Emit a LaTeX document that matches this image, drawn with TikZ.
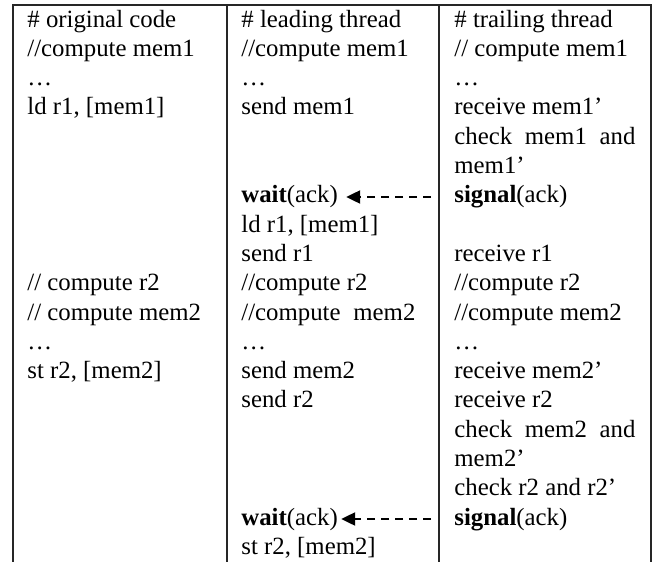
\documentclass[tikz,border=0pt]{standalone}
\usepackage{fontspec}
\setmainfont{Liberation Serif}
\usetikzlibrary{arrows.meta}
\tikzset{
    codeline/.style={anchor=base west, inner sep=0pt, font=\fontsize{12.4}{14}\selectfont},
    gridline/.style={line width=0.9pt, draw=black!85},
    ackarrow/.style={-{Triangle[length=7pt,width=6.5pt]}, line width=1.1pt, dash pattern=on 4pt off 3pt}
}
\newcommand{\spreadline}[2]{\makebox[#1][s]{#2}}

\begin{document}
\begin{tikzpicture}[x=0.5pt, y=-0.5pt]
    \useasboundingbox (0,0) rectangle (659,562);
    % table frame
    \draw[gridline] (13,562) -- (13,5) -- (651,5) -- (651,562);
    \draw[gridline] (227,5) -- (227,562);
    \draw[gridline] (439,5) -- (439,562);
    % original code
    \foreach \n/\t in {0/{\# original code}, 1/{//compute mem1}, 2/{…}, 3/{ld r1, [mem1]},
        9/{// compute r2}, 10/{// compute mem2}, 11/{…}, 12/{st r2, [mem2]}}
        \node[codeline] (orig\n) at (27, {27+29.3*\n}) {\t};
    % leading thread
    \foreach \n/\t in {0/{\# leading thread}, 1/{//compute mem1}, 2/{…}, 3/{send mem1},
        6/{\textbf{wait}(ack)}, 7/{ld r1, [mem1]}, 8/{send r1}, 9/{//compute r2},
        10/{\spreadline{87pt}{//compute mem2}}, 11/{…}, 12/{send mem2}, 13/{send r2},
        17/{\textbf{wait}(ack)}, 18/{st r2, [mem2]}}
        \node[codeline] (lead\n) at (241, {27+29.3*\n}) {\t};
    % trailing thread
    \foreach \n/\t in {0/{\# trailing thread}, 1/{// compute mem1}, 2/{…}, 3/{receive mem1’},
        4/{\spreadline{90.5pt}{check mem1 and}}, 5/{mem1’}, 6/{\textbf{signal}(ack)},
        8/{receive r1}, 9/{//compute r2}, 10/{//compute mem2}, 11/{…}, 12/{receive mem2’},
        13/{receive r2}, 14/{\spreadline{90.5pt}{check mem2 and}}, 15/{mem2’},
        16/{check r2 and r2’}, 17/{\textbf{signal}(ack)}}
        \node[codeline] (trail\n) at (454, {27+29.3*\n}) {\t};
    % acknowledgements
    \coordinate (ack1) at (431,197);
    \coordinate (ack2) at (431,519);
    \draw[ackarrow, shorten >=4pt] (ack1) -- (ack1 -| lead6.east);
    \draw[ackarrow, shorten >=1.5pt] (ack2) -- (ack2 -| lead17.east);
\end{tikzpicture}
\end{document}
